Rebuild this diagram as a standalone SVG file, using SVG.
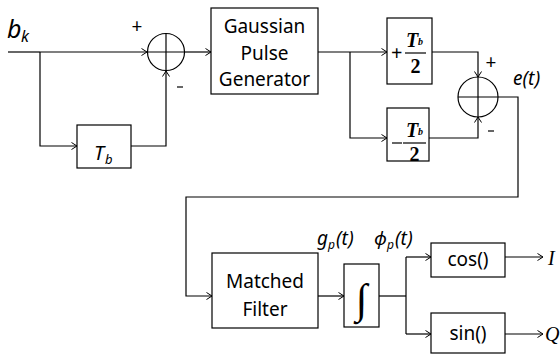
<svg xmlns="http://www.w3.org/2000/svg" width="560" height="357" viewBox="0 0 560 357">
<defs>
<marker id="ah" markerWidth="8" markerHeight="10" refX="6" refY="4" orient="auto" markerUnits="userSpaceOnUse">
<path d="M0.5,0.5 L6,4 L0.5,7.5" fill="none" stroke="#000" stroke-width="1"/>
</marker>
<style>
.b{fill:#fff;stroke:#000;stroke-width:1.2}
.l{fill:none;stroke:#000;stroke-width:1.2}
.a{fill:none;stroke:#000;stroke-width:1.2;marker-end:url(#ah)}
.t{font-family:"Noto Sans","Open Sans","DejaVu Sans",sans-serif;font-size:19px;fill:#000}
.i{font-family:"Noto Sans","Open Sans","DejaVu Sans",sans-serif;font-style:italic;fill:#000}
.s{font-family:"Liberation Serif","Times New Roman",serif;font-weight:bold;fill:#000}
.c{text-anchor:middle}
</style>
</defs>
<g id="connectors">
<line class="l" x1="8" y1="52" x2="40" y2="52"/>
<line class="a" x1="40" y1="52" x2="147" y2="52"/>
<polyline class="a" points="40,52 40,146 77,146"/>
<polyline class="a" points="131,146 166,146 166,71"/>
<line class="a" x1="185" y1="52" x2="211" y2="52"/>
<line class="a" x1="318" y1="52" x2="387" y2="52"/>
<polyline class="a" points="350,52 350,138 387,138"/>
<polyline class="a" points="432,52 478,52 478,77"/>
<polyline class="a" points="429,138 478,138 478,117"/>
<polyline class="a" points="498,97 518,97 518,197 186,197 186,296 212,296"/>
<line class="a" x1="318" y1="296" x2="344" y2="296"/>
<line class="l" x1="379" y1="296" x2="406" y2="296"/>
<polyline class="a" points="406,257 431,257"/>
<line class="l" x1="406" y1="257" x2="406" y2="334"/>
<line class="a" x1="406" y1="334" x2="431" y2="334"/>
<line class="a" x1="505" y1="257" x2="543" y2="257"/>
<line class="a" x1="505" y1="334" x2="543" y2="334"/>
</g>
<g id="input">
<text class="i" x="7" y="38" font-size="25">b</text>
<text class="i" x="21" y="42" font-size="16">k</text>
</g>
<g id="sum1">
<circle class="b" cx="166" cy="52" r="18.5"/>
<line class="l" x1="147.5" y1="52" x2="184.5" y2="52"/>
<line class="l" x1="166" y1="33.5" x2="166" y2="70.5"/>
<text class="t" x="137" y="33" text-anchor="middle" font-size="15">+</text>
<line class="l" x1="177" y1="87" x2="183" y2="87" stroke-width="1.8"/>
</g>
<g id="delay">
<rect class="b" x="77" y="125" width="54" height="43"/>
<text class="i" x="94" y="160" font-size="20">T</text>
<text class="i" x="105" y="164" font-size="13">b</text>
</g>
<g id="gauss">
<rect class="b" x="211" y="8" width="107" height="86"/>
<text class="t c" x="264.5" y="33">Gaussian</text>
<text class="t c" x="264.5" y="60">Pulse</text>
<text class="t c" x="264.5" y="86">Generator</text>
</g>
<g id="plus_half">
<rect class="b" x="387" y="18" width="45" height="66"/>
<text class="s" x="391" y="60" font-size="20" font-weight="normal">+</text>
<line class="l" x1="405" y1="53" x2="426" y2="53"/>
<text class="s" x="406" y="47" font-size="20" font-style="italic">T</text>
<text class="s" x="418" y="45" font-size="10" font-style="italic">b</text>
<text class="s c" x="415.5" y="73" font-size="20">2</text>
</g>
<g id="minus_half">
<rect class="b" x="387" y="108" width="42" height="53"/>
<line class="l" x1="392" y1="143" x2="402" y2="143"/>
<line class="l" x1="403" y1="143" x2="426" y2="143"/>
<text class="s" x="406" y="137" font-size="20" font-style="italic">T</text>
<text class="s" x="418" y="135" font-size="10" font-style="italic">b</text>
<text class="s c" x="414.5" y="161" font-size="20">2</text>
</g>
<g id="sum2">
<circle class="b" cx="478" cy="97" r="20"/>
<line class="l" x1="458" y1="97" x2="498" y2="97"/>
<line class="l" x1="478" y1="77" x2="478" y2="117"/>
<text class="t" x="491" y="69" text-anchor="middle" font-size="15">+</text>
<line class="l" x1="488" y1="131" x2="494" y2="131" stroke-width="1.8"/>
<text class="i" x="513" y="85" font-size="19">e(t)</text>
</g>
<g id="matched">
<rect class="b" x="212" y="253" width="106" height="75"/>
<text class="t c" x="265" y="288">Matched</text>
<text class="t c" x="265" y="316">Filter</text>
</g>
<g id="integrator">
<rect class="b" x="344" y="264" width="35" height="63"/>
<text x="361.5" y="313" font-family="Liberation Serif,serif" font-weight="bold" font-size="42" text-anchor="middle">∫</text>
<text class="i" x="317" y="245" font-size="19">g</text>
<text class="i" x="328" y="249" font-size="12">p</text>
<text class="i" x="336" y="245" font-size="19">(t)</text>
<text class="i" x="374" y="245" font-size="19">ϕ</text>
<text class="i" x="387" y="249" font-size="12">p</text>
<text class="i" x="395" y="245" font-size="19">(t)</text>
</g>
<g id="cos">
<rect class="b" x="431" y="243" width="74" height="34"/>
<text class="t c" x="468" y="266">cos()</text>
<text x="548" y="265" font-family="Liberation Serif,serif" font-style="italic" font-size="20">I</text>
</g>
<g id="sin">
<rect class="b" x="431" y="313" width="74" height="40"/>
<text class="t c" x="468" y="340">sin()</text>
<text x="545" y="341" font-family="Liberation Serif,serif" font-style="italic" font-size="20">Q</text>
</g>
</svg>
